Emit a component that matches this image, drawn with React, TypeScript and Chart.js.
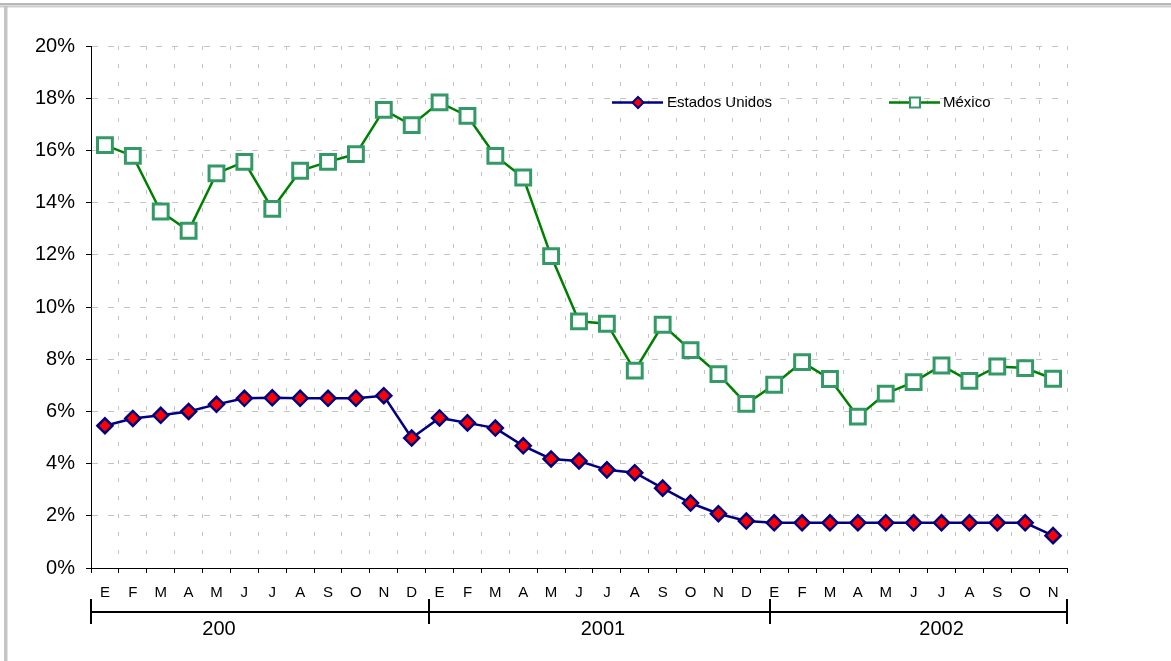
import React, { useEffect, useRef } from "react";
import { Chart, registerables } from "chart.js";

Chart.register(...registerables);

// Month initials (Spanish) for Jan 2000 – Nov 2002
const monthsFull = ["E", "F", "M", "A", "M", "J", "J", "A", "S", "O", "N", "D"];
const months2002 = ["E", "F", "M", "A", "M", "J", "J", "A", "S", "O", "N"];
const categories = [...monthsFull, ...monthsFull, ...months2002];

// Year group labels under the month axis
const yearLabels = ["200", "2001", "2002"];

// Interest rates, percent
const estadosUnidos = [
  5.45, 5.73, 5.85, 6.0, 6.27, 6.5, 6.52, 6.5, 6.5, 6.5, 6.6, 4.98,
  5.75, 5.56, 5.36, 4.68, 4.18, 4.1, 3.76, 3.65, 3.06, 2.49, 2.08, 1.8,
  1.73, 1.73, 1.73, 1.73, 1.73, 1.73, 1.73, 1.73, 1.73, 1.73, 1.24,
];
const mexico = [
  16.2, 15.79, 13.66, 12.92, 15.12, 15.56, 13.76, 15.22, 15.56, 15.86, 17.55, 16.97,
  17.84, 17.32, 15.79, 14.96, 11.95, 9.45, 9.36, 7.56, 9.32, 8.35, 7.43, 6.29,
  7.02, 7.89, 7.24, 5.8, 6.68, 7.12, 7.76, 7.17, 7.72, 7.66, 7.25,
];

const yTickValues = [0, 2, 4, 6, 8, 10, 12, 14, 16, 18, 20];

const FONT = '"Liberation Sans", Arial, sans-serif';
const NAVY = "#000080";
const GREEN = "#008000";
const SQUARE_EDGE = "#339966";

// Gray sheet frame around the chart object
const framePlugin = {
  id: "frame",
  beforeDraw(chart: Chart) {
    const { ctx, width, height } = chart;
    ctx.save();
    ctx.fillStyle = "#b8b8b8";
    ctx.fillRect(0, 3, width, 2.5);
    ctx.fillStyle = "#cfcfcf";
    ctx.fillRect(0, 6, width, 1.5);
    ctx.fillStyle = "#c4c4c4";
    ctx.fillRect(4, 6, 3.5, height - 6);
    ctx.restore();
  },
};

// Second-level axis: year brackets under the month labels
const yearAxisPlugin = {
  id: "yearAxis",
  afterDraw(chart: Chart) {
    const { ctx } = chart;
    const x = chart.scales.x;
    const px = (v: number) => x.getPixelForValue(0) + v * (x.getPixelForValue(1) - x.getPixelForValue(0));
    const bounds = [-0.5, 11.62, 23.85, 34.5];
    const centers = [4.09, 17.86, 30.0];
    const lineY = 612;
    ctx.save();
    ctx.strokeStyle = "#000";
    ctx.lineWidth = 2;
    ctx.beginPath();
    ctx.moveTo(px(bounds[0]), lineY);
    ctx.lineTo(px(bounds[bounds.length - 1]), lineY);
    ctx.stroke();
    bounds.forEach((b) => {
      ctx.beginPath();
      ctx.moveTo(px(b), 599);
      ctx.lineTo(px(b), 624);
      ctx.stroke();
    });
    ctx.fillStyle = "#000";
    ctx.font = `20px ${FONT}`;
    ctx.textAlign = "center";
    ctx.textBaseline = "middle";
    yearLabels.forEach((t, i) => ctx.fillText(t, px(centers[i]), 629));
    ctx.restore();
  },
};

// Legend drawn inside the plot area
const legendPlugin = {
  id: "innerLegend",
  afterDraw(chart: Chart) {
    const { ctx } = chart;
    const y = 102.5;
    ctx.save();
    ctx.font = `15px ${FONT}`;
    ctx.textBaseline = "middle";
    ctx.textAlign = "left";

    // Estados Unidos
    ctx.strokeStyle = NAVY;
    ctx.lineWidth = 2.5;
    ctx.beginPath();
    ctx.moveTo(612, y);
    ctx.lineTo(663, y);
    ctx.stroke();
    ctx.beginPath();
    ctx.moveTo(638, y - 5.5);
    ctx.lineTo(643.5, y);
    ctx.lineTo(638, y + 5.5);
    ctx.lineTo(632.5, y);
    ctx.closePath();
    ctx.fillStyle = "#ff0000";
    ctx.fill();
    ctx.lineWidth = 2;
    ctx.stroke();
    ctx.fillStyle = "#000";
    ctx.fillText("Estados Unidos", 667, y);

    // México
    ctx.strokeStyle = GREEN;
    ctx.lineWidth = 2.5;
    ctx.beginPath();
    ctx.moveTo(889, y);
    ctx.lineTo(940, y);
    ctx.stroke();
    ctx.fillStyle = "#fff";
    ctx.fillRect(910, y - 5, 10, 10);
    ctx.strokeStyle = SQUARE_EDGE;
    ctx.lineWidth = 2;
    ctx.strokeRect(910, y - 5, 10, 10);
    ctx.fillStyle = "#000";
    ctx.fillText("México", 943, y);
    ctx.restore();
  },
};

export default function App() {
  const canvasRef = useRef<HTMLCanvasElement | null>(null);

  useEffect(() => {
    if (!canvasRef.current) return;
    Chart.defaults.font.family = FONT;
    Chart.defaults.color = "#000";

    const chart = new Chart(canvasRef.current, {
      type: "line",
      data: {
        labels: categories,
        datasets: [
          {
            label: "México",
            data: mexico,
            borderColor: GREEN,
            borderWidth: 2.5,
            pointStyle: "rect",
            pointRadius: 10.5,
            pointBackgroundColor: "#ffffff",
            pointBorderColor: SQUARE_EDGE,
            pointBorderWidth: 3,
            tension: 0,
          },
          {
            label: "Estados Unidos",
            data: estadosUnidos,
            borderColor: NAVY,
            borderWidth: 2.5,
            pointStyle: "rectRot",
            pointRadius: 7.5,
            pointBackgroundColor: "#ff0000",
            pointBorderColor: NAVY,
            pointBorderWidth: 2.5,
            tension: 0,
          },
        ],
      },
      options: {
        responsive: false,
        animation: false,
        events: [],
        layout: { padding: { left: 0, right: 104, top: 46, bottom: 0 } },
        plugins: {
          legend: { display: false },
          tooltip: { enabled: false },
          title: { display: false },
        },
        scales: {
          x: {
            type: "category",
            offset: true,
            grid: {
              offset: true,
              color: "#c4c4c4",
              lineWidth: 1,
              tickColor: "#000",
              tickLength: 5,
              tickBorderDash: [],
            },
            border: { display: true, color: "#000", width: 1, dash: [4, 14] },
            ticks: {
              autoSkip: false,
              maxRotation: 0,
              padding: 11,
              font: { size: 15 },
              color: "#000",
            },
            afterFit(scale: any) {
              scale.height = 93;
            },
          },
          y: {
            min: 0,
            max: 20,
            afterBuildTicks(scale: any) {
              scale.ticks = yTickValues.map((v) => ({ value: v }));
            },
            grid: {
              color: "#c4c4c4",
              lineWidth: 1,
              tickColor: "#000",
              tickLength: 5,
              tickBorderDash: [],
            },
            border: { display: true, color: "#000", width: 1, dash: [6, 10] },
            ticks: {
              padding: 11,
              font: { size: 20 },
              color: "#000",
              callback: (v: any) => `${v}%`,
            },
            afterFit(scale: any) {
              scale.width = 91;
            },
          },
        },
      },
      plugins: [framePlugin, yearAxisPlugin, legendPlugin],
    });

    return () => chart.destroy();
  }, []);

  return (
    <div style={{ position: "absolute", left: 0, top: 0, width: 1171, height: 661, background: "#fff" }}>
      <canvas ref={canvasRef} width={1171} height={661} style={{ display: "block" }} />
    </div>
  );
}
